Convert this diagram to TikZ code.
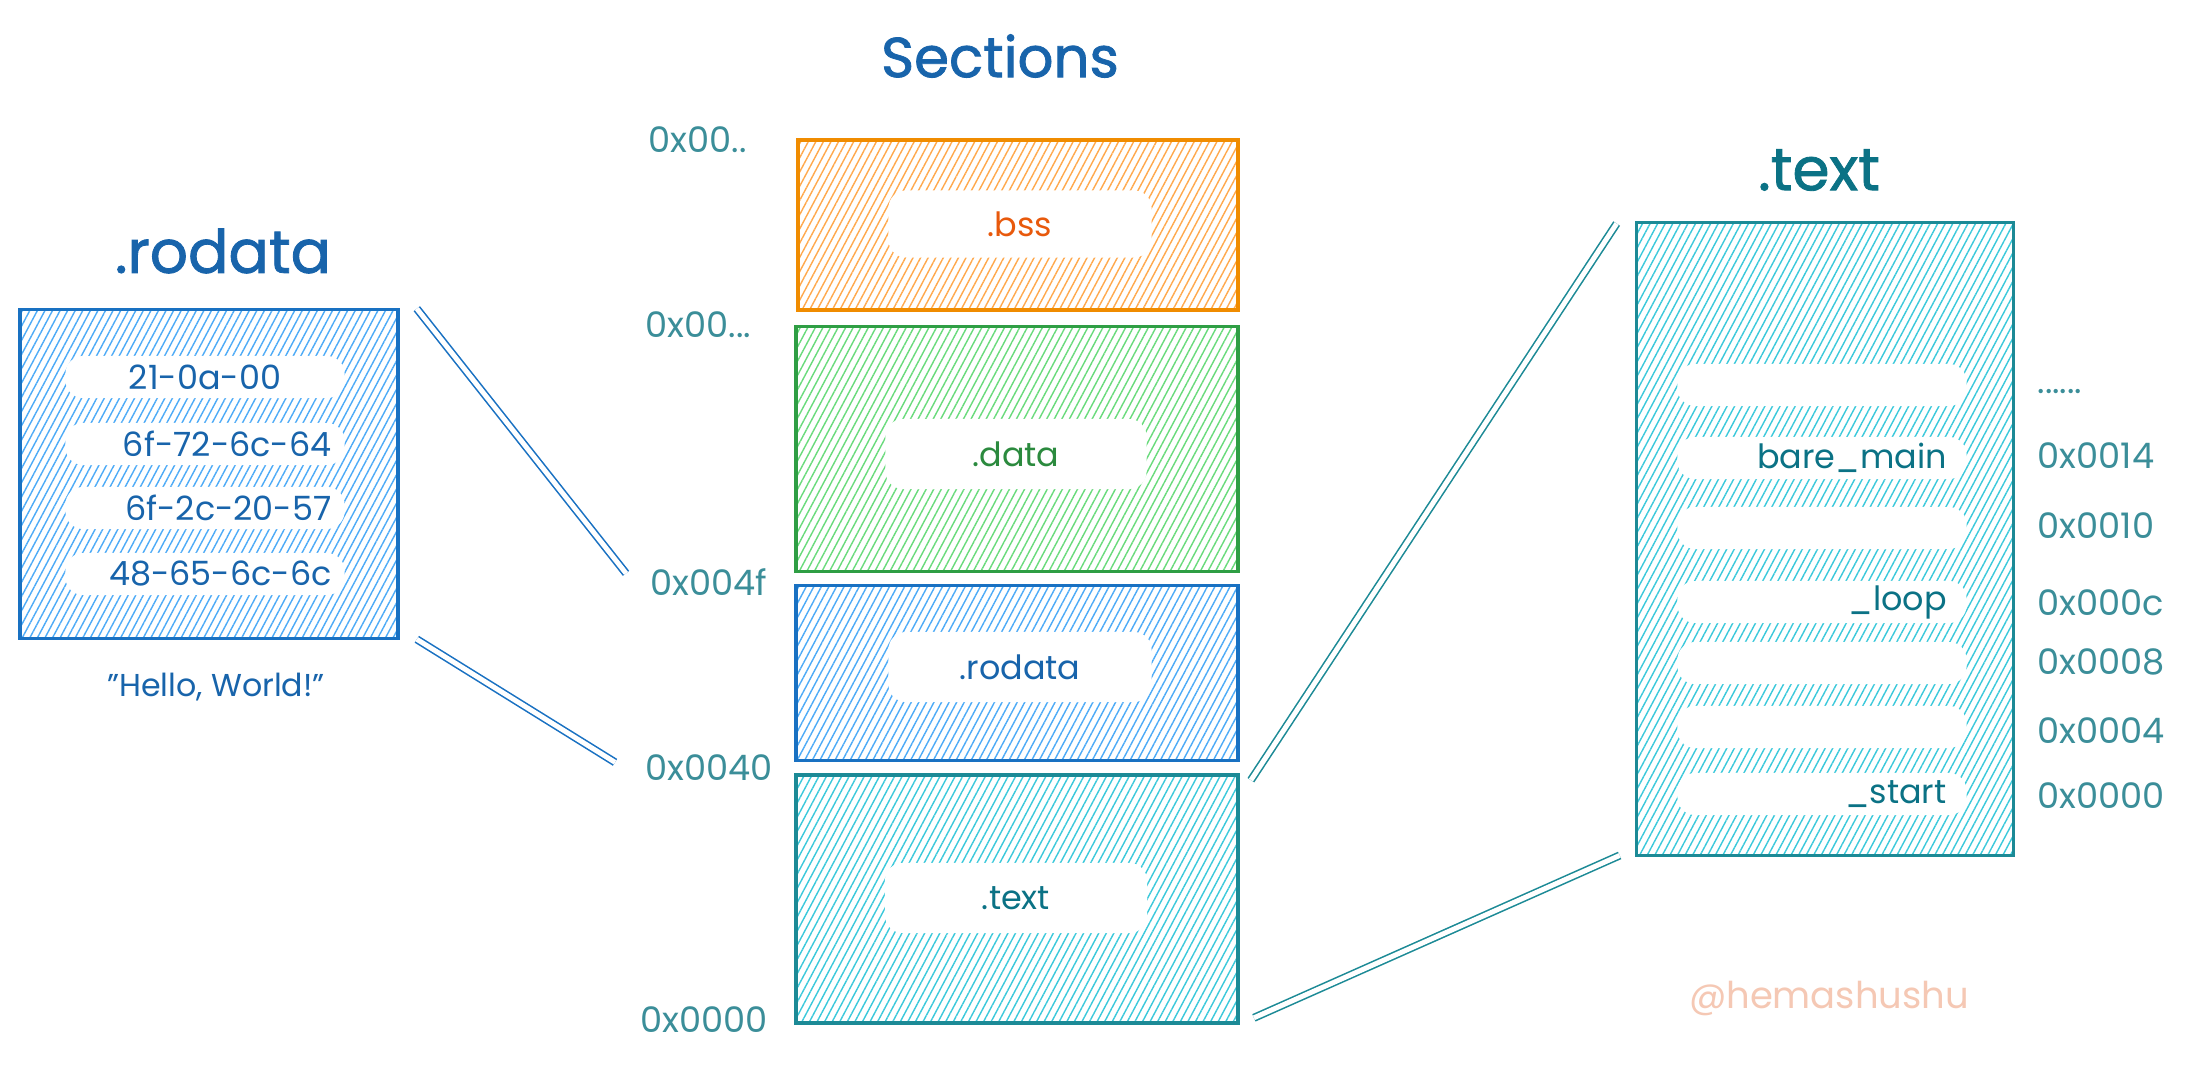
\documentclass[tikz,border=0pt]{standalone}
\usepackage{fontspec}
\setmainfont{Poppins}
\newfontfamily\titlefont{Poppins}[FakeBold=1.4]
\usetikzlibrary{patterns.meta}

\definecolor{rodstroke}{HTML}{1971C2}
\definecolor{rodhatch}{HTML}{4DABF7}
\definecolor{rodtext}{HTML}{1864AB}
\definecolor{bssstroke}{HTML}{F08C00}
\definecolor{bsshatch}{HTML}{FFA94D}
\definecolor{bsstext}{HTML}{E8590C}
\definecolor{datastroke}{HTML}{2F9E44}
\definecolor{datahatch}{HTML}{69DB7C}
\definecolor{datatext}{HTML}{2B8A3E}
\definecolor{txtstroke}{HTML}{1C8A96}
\definecolor{txthatch}{HTML}{3BC9DB}
\definecolor{txttext}{HTML}{0B7285}
\definecolor{addrcol}{HTML}{3B8E99}
\definecolor{markcol}{HTML}{F5C8B4}

\tikzset{
  secbox/.style 2 args={draw=#1, line width=1pt, inner sep=0pt,
    pattern={Lines[angle=62,distance=1.9pt,line width=0.4pt]}, pattern color=#2},
  hole/.style={fill=white, rounded corners=5pt, inner sep=0pt, font=\fontsize{9.5}{11}\selectfont},
  rowhole/.style={hole, minimum height=0.42cm, text width=#1, align=right},
  addr/.style={text=addrcol, font=\fontsize{10}{12}\selectfont, inner sep=0pt},
  title/.style={font=\titlefont\fontsize{17}{20}\selectfont, inner sep=0pt},
  link/.style={draw=#1, line width=0.45pt, double=white, double distance=1.4pt},
}

\begin{document}
\begin{tikzpicture}[x=0.01cm, y=-0.01cm]
  \fill[white] (0,0) rectangle (2189,1064);
  \useasboundingbox (0,0) rectangle (2189,1064);

  % left: .rodata detail
  \node[title, text=rodtext] (ltitle) at (223,251) {.rodata};
  \node[secbox={rodstroke}{rodhatch}, minimum width=3.78cm, minimum height=3.29cm] (lbox) at (209,474) {};
  \node[rowhole=2.79cm, text=rodtext, align=center] (r1) at (205,377) {21-0a-00};
  \node[rowhole=2.53cm, inner xsep=0.13cm, text=rodtext] (r2) at (205,444) {6f-72-6c-64};
  \node[rowhole=2.53cm, inner xsep=0.13cm, text=rodtext] (r3) at (205,508) {6f-2c-20-57};
  \node[rowhole=2.53cm, inner xsep=0.13cm, text=rodtext] (r4) at (205,574) {48-65-6c-6c};
  \node[text=rodtext, font=\fontsize{9}{11}\selectfont] (hello) at (216,687) {"Hello, World!"};

  % middle: sections
  \node[font=\titlefont\fontsize{16}{19}\selectfont, text=rodtext] (stitle) at (1000,56) {Sections};
  \node[secbox={bssstroke}{bsshatch}, minimum width=4.40cm, minimum height=1.70cm] (bss) at (1018,225) {};
  \node[secbox={datastroke}{datahatch}, minimum width=4.42cm, minimum height=2.45cm] (data) at (1017,449) {};
  \node[secbox={rodstroke}{rodhatch}, minimum width=4.42cm, minimum height=1.75cm] (rod) at (1017,673) {};
  \node[secbox={txtstroke}{txthatch}, minimum width=4.42cm, minimum height=2.48cm] (txt) at (1017,899) {};
  \node[hole, minimum width=2.63cm, minimum height=0.67cm, text=bsstext] (bsslbl) at (1020,224) {.bss};
  \node[hole, minimum width=2.61cm, minimum height=0.70cm, text=datatext] (datalbl) at (1016,454) {.data};
  \node[hole, minimum width=2.63cm, minimum height=0.70cm, text=rodtext] (rodlbl) at (1020,667) {.rodata};
  \node[hole, minimum width=2.62cm, minimum height=0.70cm, text=txttext] (txtlbl) at (1016,898) {.text};

  \node[addr, anchor=west] (a1) at (648,140) {0x00..};
  \node[addr, anchor=west] (a2) at (645,325) {0x00...};
  \node[addr, anchor=west] (a3) at (650,582) {0x004f};
  \node[addr, anchor=west] (a4) at (645,768) {0x0040};
  \node[addr, anchor=west] (a5) at (640,1020) {0x0000};

  % right: .text detail
  \node[title, text=txttext] (rtitle) at (1819,170) {.text};
  \node[secbox={txtstroke}{txthatch}, minimum width=3.77cm, minimum height=6.33cm] (rbox) at (1825,539) {};
  \foreach \y/\name/\lbl in {385/t1/{}, 458/t2/bare\_main, 528/t3/{}, 602/t4/\_loop,
      663/t5/{}, 727/t6/{}, 794/t7/\_start}
    \node[rowhole=2.49cm, inner xsep=0.2cm, text=txttext] (\name) at (1822,\y) {\lbl};
  \node[addr, anchor=west] (b0) at (2037,392) {......};
  \foreach \y/\name/\lbl in {456/b1/0x0014, 526/b2/0x0010, 603/b3/0x000c,
      662/b4/0x0008, 731/b5/0x0004, 796/b6/0x0000}
    \node[addr, anchor=west] (\name) at (2037,\y) {\lbl};

  % zoom lines
  \draw[link=rodstroke] ([xshift=0.18cm]lbox.north east) -- ([xshift=-1.68cm]data.south west);
  \draw[link=rodstroke] ([xshift=0.18cm]lbox.south east) -- ([xshift=-1.79cm]rod.south west);
  \draw[link=txtstroke] ([xshift=0.11cm,yshift=-0.07cm]txt.north east) -- ([xshift=-0.18cm,yshift=-0.03cm]rbox.north west);
  \draw[link=txtstroke] ([xshift=0.14cm,yshift=0.07cm]txt.south east) -- ([xshift=-0.15cm,yshift=0.02cm]rbox.south west);

  \node[text=markcol, font=\fontsize{10.5}{12}\selectfont] (mark) at (1829,998) {@hemashushu};
\end{tikzpicture}
\end{document}
